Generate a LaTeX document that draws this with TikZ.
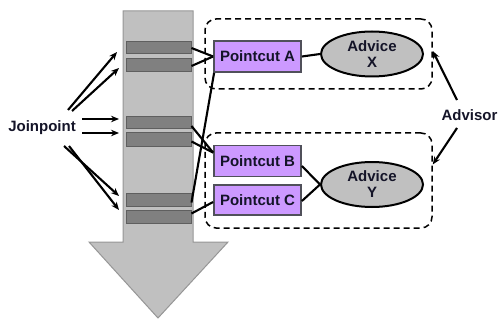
\documentclass[tikz,border=0pt]{standalone}
\usepackage{fontspec}
\setmainfont{Liberation Sans}
\usetikzlibrary{arrows.meta}
\definecolor{pcfill}{RGB}{204,153,255}
\definecolor{pcline}{RGB}{80,80,90}
\definecolor{arrfill}{RGB}{192,192,192}
\definecolor{arrline}{RGB}{150,150,150}
\definecolor{barfill}{RGB}{128,128,128}
\definecolor{barline}{RGB}{95,95,95}
\definecolor{txt}{RGB}{20,20,40}
\tikzset{
  every node/.style={font=\fontsize{15}{15}\selectfont\bfseries, inner sep=0pt, text=txt},
  bar/.style={draw=barline, fill=barfill, line width=1pt, minimum width=65pt},
  pc/.style={draw=pcline, fill=pcfill, line width=1.8pt, minimum width=87pt, minimum height=30pt},
  adv/.style={draw=black, fill=arrfill, ellipse, line width=2pt, minimum width=102pt, minimum height=45pt, align=center, font=\fontsize{15}{16}\selectfont\bfseries},
  dbox/.style={draw=black, dashed, dash pattern=on 6pt off 4pt, rounded corners=11pt, line width=1.5pt, minimum width=227pt},
  conn/.style={draw=black, line width=2.1pt},
  jarr/.style={draw=black, line width=2.1pt, -{Stealth[length=8pt,width=6.5pt]}},
}
\usetikzlibrary{shapes.geometric}
\begin{document}
\begin{tikzpicture}[x=1pt,y=-1pt]
\useasboundingbox (0,0) rectangle (503,326);
% big arrow
\draw[arrline, fill=arrfill, line width=1pt] (123,11) -- (193,11) -- (193,242) -- (228,242) -- (158,318) -- (89,242) -- (123,242) -- cycle;
% bars
\node[bar, minimum height=12pt] (b1) at (158.5,48) {};
\node[bar, minimum height=13pt] (b2) at (158.5,65.5) {};
\node[bar, minimum height=12pt] (b3) at (158.5,123) {};
\node[bar, minimum height=13pt] (b4) at (158.5,139.5) {};
\node[bar, minimum height=13pt] (b5) at (158.5,199.5) {};
\node[bar, minimum height=13pt] (b6) at (158.5,216.5) {};
% dashed boxes
\node[dbox, minimum height=70pt] (boxA) at (318.5,54) {};
\node[dbox, minimum height=95pt] (boxB) at (318.5,180.5) {};
% pointcuts
\node[pc, minimum height=31pt] (pa) at (257.5,56.5) {Pointcut A};
\node[pc, minimum height=31pt] (pb) at (257.5,161) {Pointcut B};
\node[pc] (pcc) at (257.5,200) {Pointcut C};
% advices
\node[adv] (ax) at (372,54) {Advice\\X};
\node[adv] (ay) at (372,184.5) {Advice\\Y};
% labels
\node (jp) at (42,128) {Joinpoint};
\node (ad) at (469.5,115) {Advisor};
% joinpoint arrows
\coordinate (j1) at (68,110);
\coordinate (j2) at (72,111);
\coordinate (j3) at (82,119);
\coordinate (j4) at (82,133);
\coordinate (j5) at (64,146);
\coordinate (j6) at (69,146);
\coordinate (e1) at (117,52);
\coordinate (e2) at (119,68);
\coordinate (e3) at (119,119);
\coordinate (e4) at (119,133);
\coordinate (e5) at (119,196);
\coordinate (e6) at (119,210);
\draw[jarr] (j1) -- (e1);
\draw[jarr] (j2) -- (e2);
\draw[jarr] (j3) -- (e3);
\draw[jarr] (j4) -- (e4);
\draw[jarr] (j5) -- (e5);
\draw[jarr] (j6) -- (e6);
% bar to pointcut
\draw[conn] (b1.east) -- (pa.west);
\draw[conn] ([yshift=-0.5pt]b2.east) -- (pa.west);
\draw[conn] ([yshift=-3pt]b5.east) -- ([xshift=1pt]pa.south west);
\draw[conn] ([yshift=-3pt]b3.east) -- ([yshift=-8pt]pb.north west);
\draw[conn] ([yshift=-2pt]b4.east) -- ([yshift=-8pt]pb.north west);
\draw[conn] ([yshift=3pt]b6.east) -- ([yshift=-2pt]pcc.west);
% pointcut to advice
\draw[conn] (pa.east) -- (ax.west);
\draw[conn] ([yshift=-5pt]pb.east) -- (ay.west);
\draw[conn] ([yshift=-1pt]pcc.east) -- (ay.west);
% advisor arrows
\coordinate (s1) at (457,100);
\coordinate (s2) at (457,128);
\draw[jarr] (s1) -- ([yshift=3pt]boxA.east);
\draw[jarr] (s2) -- ([yshift=16pt]boxB.east);
\end{tikzpicture}
\end{document}
